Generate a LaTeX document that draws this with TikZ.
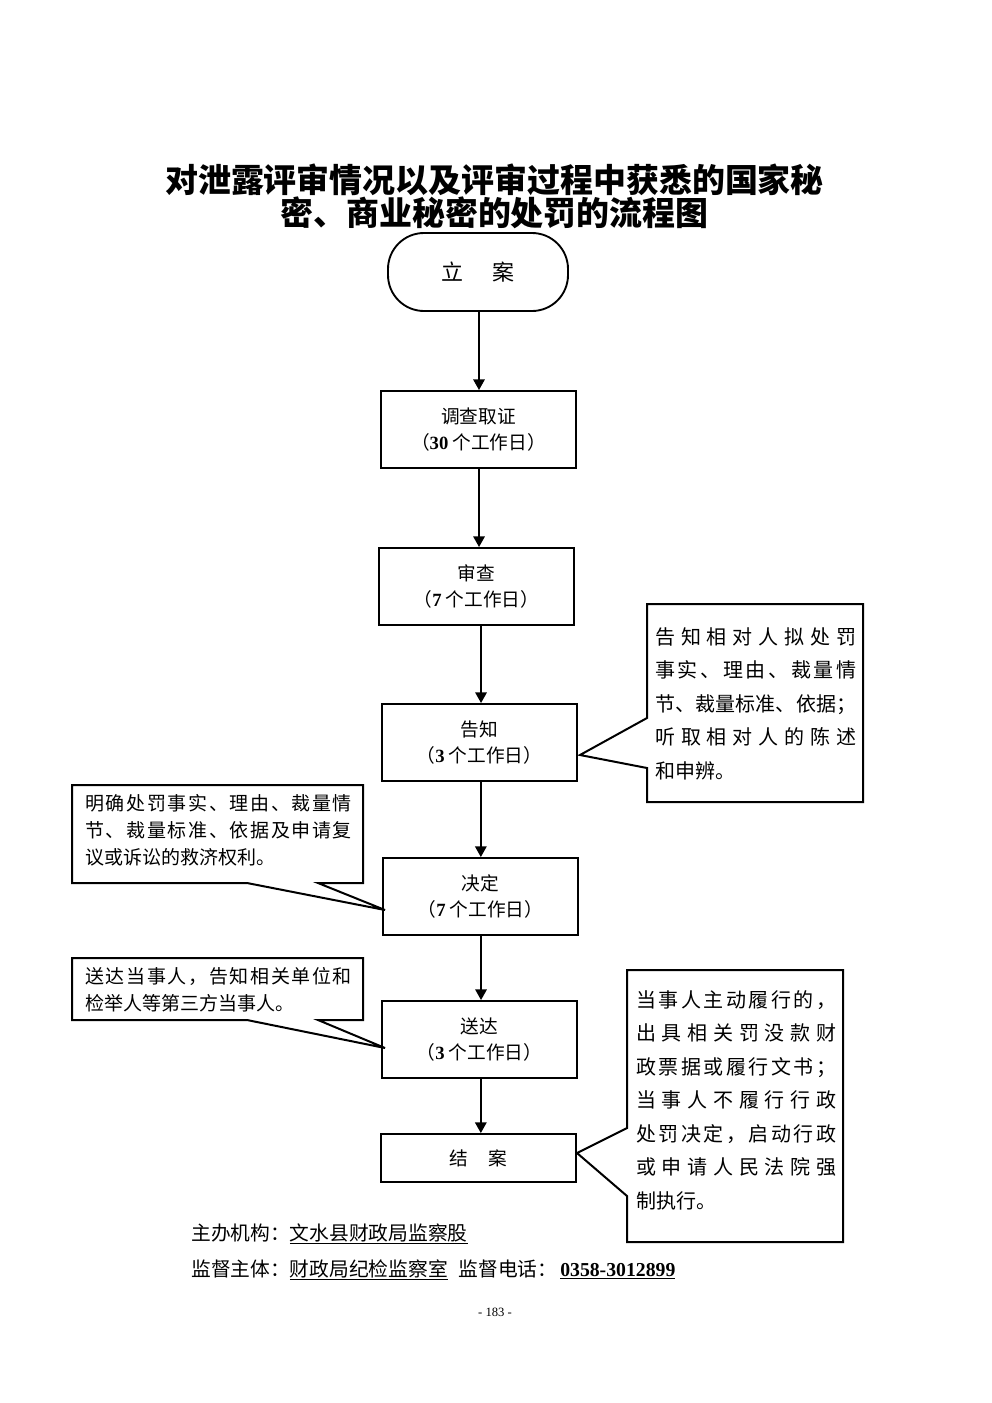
\documentclass[tikz,border=0pt]{standalone}
\usepackage{fontspec}
\setmainfont{Noto Sans CJK SC}
\newfontfamily\lat{Liberation Serif}
\usetikzlibrary{arrows.meta}
\def\spgobble#1{}
\def\spaux#1#2{#1\ifx\relax#2\expandafter\spgobble\else\hfill\expandafter\spaux\fi#2}
\newcommand\spreadline[2]{\makebox[#1][l]{\spaux#2\relax}}
\begin{document}
\begin{tikzpicture}[x=0.75pt,y=-0.75pt,
  box/.style={draw,line width=1.4pt,minimum width=146.25pt,minimum height=57.75pt,align=center,inner sep=0pt,font=\fontsize{14}{19.5}\selectfont},
  arr/.style={line width=1.5pt,-{Triangle[length=8pt,width=8.5pt]}},
  callout/.style={line width=1.5pt,line join=miter},
  ctextR/.style={anchor=base west,inner sep=0pt,align=left,font=\fontsize{15}{25.1}\selectfont},
  ctextL/.style={anchor=base west,inner sep=0pt,align=left,font=\fontsize{14.25}{20.25}\selectfont},
  titlestyle/.style={inner sep=0pt,font=\fontsize{24.7}{28}\selectfont\bfseries},
  foot/.style={anchor=base west,inner sep=0pt,font=\fontsize{14.8}{18}\selectfont}]
\fill[white] (0,0) rectangle (992,1403);
\useasboundingbox (0,0) rectangle (992,1403);

% title
\node[titlestyle] (title1) at (494.5,180) {对泄露评审情况以及评审过程中获悉的国家秘};
\node[titlestyle] (title2) at (494.5,213) {密、商业秘密的处罚的流程图};

% main flow
\node[draw,line width=1.4pt,minimum width=135pt,minimum height=58.5pt,rounded corners=27pt,inner sep=0pt,font=\fontsize{16.5}{20}\selectfont] (lian) at (478,272) {立\hspace{1.3em}案};
\node[box] (diaocha) at (478.5,429.5) {调查取证\\（{\lat\bfseries 30} 个工作日）};
\node[box] (shencha) at (476.5,586.5) {审查\\（{\lat\bfseries 7} 个工作日）};
\node[box] (gaozhi) at (479.5,742.5) {告知\\（{\lat\bfseries 3} 个工作日）};
\node[box] (jueding) at (480.5,896.5) {决定\\（{\lat\bfseries 7} 个工作日）};
\node[box] (songda) at (479.5,1039.5) {送达\\（{\lat\bfseries 3} 个工作日）};
\node[box,minimum height=36pt] (jiean) at (478.5,1158) {结\hspace{1.1em}案};

\draw[arr] ([xshift=0.75pt]lian.south) -- ([xshift=0.75pt]lian.south |- diaocha.north);
\draw[arr] ([xshift=0.4pt]diaocha.south) -- ([xshift=0.4pt]diaocha.south |- shencha.north);
\draw[arr] ([xshift=3.4pt]shencha.south) -- ([xshift=3.4pt]shencha.south |- gaozhi.north);
\draw[arr] ([xshift=1pt]gaozhi.south) -- ([xshift=1pt]gaozhi.south |- jueding.north);
\draw[arr] ([xshift=0.4pt]jueding.south) -- ([xshift=0.4pt]jueding.south |- songda.north);
\draw[arr] ([xshift=1pt]songda.south) -- ([xshift=1pt]songda.south |- jiean.north);

% callout tips
\coordinate (tip1) at (580,755);
\coordinate (tip2) at (385,910);
\coordinate (tip3) at (385,1048);
\coordinate (tip4) at (577,1153);

% right callout 1
\draw[callout] (647,718) -- (647,604) -- (863,604) -- (863,802) -- (647,802) -- (647,768) -- (tip1) -- cycle;
\node[ctextR] (c1) at (655,778) {\spreadline{150.75pt}{告知相对人拟处罚}\\\spreadline{150.75pt}{事实、理由、裁量情}\\\spreadline{150.75pt}{节、裁量标准、依据；}\\\spreadline{150.75pt}{听取相对人的陈述}\\和申辨。};

% left callout 1
\draw[callout] (72,785) -- (363,785) -- (363,883) -- (318,883) -- (tip2) -- (247,883) -- (72,883) -- cycle;
\node[ctextL] (c2) at (85,864) {\spreadline{200pt}{明确处罚事实、理由、裁量情}\\\spreadline{200pt}{节、裁量标准、依据及申请复}\\议或诉讼的救济权利。};

% left callout 2
\draw[callout] (72,958) -- (363,958) -- (363,1020) -- (318,1020) -- (tip3) -- (247,1020) -- (72,1020) -- cycle;
\node[ctextL] (c3) at (85,1010) {\spreadline{200pt}{送达当事人，告知相关单位和}\\检举人等第三方当事人。};

% right callout 2
\draw[callout] (627,1128) -- (627,970) -- (843,970) -- (843,1242) -- (627,1242) -- (627,1196) -- (tip4) -- cycle;
\node[ctextR] (c4) at (636,1208) {\spreadline{150pt}{当事人主动履行的，}\\\spreadline{150pt}{出具相关罚没款财}\\\spreadline{150pt}{政票据或履行文书；}\\\spreadline{150pt}{当事人不履行行政}\\\spreadline{150pt}{处罚决定，启动行政}\\\spreadline{150pt}{或申请人民法院强}\\制执行。};

% footer
\node[foot] (f1) at (191,1240) {主办机构：\underline{文水县财政局监察股}};
\node[foot] (f2) at (191,1276) {监督主体：\underline{财政局纪检监察室}\hspace{0.55em}监督电话：\hspace{0.15em}\underline{{\lat\bfseries 0358-3012899}}};
\node[inner sep=0pt,font=\lat\fontsize{9.5}{11}\selectfont] (pg) at (495,1312) {- 183 -};
\end{tikzpicture}
\end{document}
